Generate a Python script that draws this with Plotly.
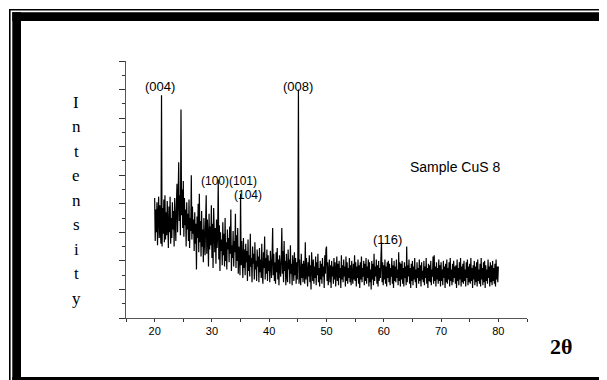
import plotly.graph_objects as go

# ---- data (intensity in arbitrary units, 2-theta step 0.1 deg) ----
two_theta_start = 20.0
two_theta_step = 0.1
intensity = [
    8.4, 5.4, 7.6, 6.0, 8.1, 5.1, 7.2, 8.5, 5.6, 7.9,   # 20
    6.1, 5.2, 15.6, 5.0, 7.7, 5.9, 8.3, 5.3, 8.6, 5.5,  # 21
    7.4, 5.8, 8.2, 6.4, 4.9, 7.8, 6.0, 8.5, 5.2, 7.0,   # 22
    5.6, 8.1, 6.2, 7.5, 5.0, 8.4, 6.6, 5.4, 7.9, 9.4,   # 23
    6.0, 8.0, 10.9, 6.8, 8.6, 5.8, 14.6, 7.2, 9.0, 6.3, # 24
    9.6, 5.7, 8.4, 6.5, 7.6, 5.0, 8.1, 6.2, 7.3, 5.4,   # 25
    8.3, 4.9, 7.0, 6.1, 10.0, 5.5, 7.8, 5.9, 6.9, 4.7,  # 26
    7.4, 5.2, 6.6, 3.4, 7.1, 5.6, 8.0, 4.6, 8.7, 5.3,   # 27
    6.8, 4.3, 7.5, 5.0, 6.2, 3.9, 7.0, 5.4, 4.4, 6.7,   # 28
    8.6, 4.5, 6.9, 5.7, 3.6, 7.3, 4.8, 6.4, 5.1, 7.9,   # 29
    4.2, 6.6, 3.5, 7.7, 5.2, 4.6, 6.3, 3.8, 6.9, 4.9,   # 30
    5.8, 9.7, 4.1, 6.5, 3.3, 6.0, 4.7, 5.5, 3.7, 6.7,   # 31
    4.4, 5.9, 3.6, 7.0, 4.0, 5.3, 3.4, 6.2, 4.8, 5.6,   # 32
    3.9, 6.4, 4.5, 7.6, 3.3, 5.1, 4.2, 6.1, 3.6, 5.4,   # 33
    4.6, 7.3, 3.5, 5.8, 4.0, 6.3, 3.1, 5.0, 4.3, 3.0,   # 34
    8.7, 3.7, 5.4, 4.1, 2.8, 5.6, 3.5, 4.8, 3.0, 5.2,   # 35
    3.9, 4.7, 2.6, 5.5, 3.3, 4.4, 2.9, 5.9, 3.6, 4.2,   # 36
    2.5, 5.0, 3.8, 4.5, 2.7, 5.3, 3.4, 4.0, 2.6, 4.8,   # 37
    3.6, 4.3, 2.5, 4.9, 3.2, 4.1, 2.8, 5.2, 3.0, 2.4,   # 38
    4.6, 3.5, 5.7, 2.7, 4.2, 3.1, 4.8, 2.6, 4.4, 3.3,   # 39
    4.0, 2.5, 4.7, 3.4, 2.8, 4.3, 6.3, 3.0, 4.5, 2.6,   # 40
    3.9, 2.4, 4.6, 3.2, 4.9, 2.7, 4.1, 2.3, 4.4, 3.5,   # 41
    2.9, 4.2, 6.3, 3.1, 4.7, 2.5, 5.4, 3.3, 4.0, 2.3,   # 42
    4.5, 3.0, 2.5, 4.8, 3.4, 4.1, 2.4, 5.1, 3.1, 3.8,   # 43
    2.3, 4.4, 3.2, 2.6, 4.6, 3.0, 4.2, 2.4, 3.9, 2.7,   # 44
    4.3, 16.0, 2.4, 4.1, 3.0, 2.3, 4.5, 2.8, 3.8, 2.5,  # 45
    4.0, 3.1, 2.4, 5.3, 2.7, 4.2, 3.3, 2.2, 3.9, 2.9,   # 46
    4.4, 2.5, 3.7, 2.0, 4.6, 3.2, 2.6, 4.1, 2.4, 3.6,   # 47
    2.8, 4.3, 2.3, 3.9, 3.0, 4.5, 2.5, 3.5, 2.2, 4.0,   # 48
    2.7, 3.8, 2.4, 4.2, 2.9, 3.6, 2.1, 4.4, 3.1, 4.8,   # 49
    5.0, 2.6, 3.9, 2.3, 3.5, 4.1, 2.5, 3.7, 2.1, 4.0,   # 50
    2.9, 3.6, 2.4, 4.2, 2.7, 3.9, 2.2, 3.4, 4.3, 2.6,   # 51
    3.8, 2.3, 4.0, 2.8, 3.5, 2.1, 4.4, 2.7, 3.7, 2.5,   # 52
    4.1, 2.9, 3.6, 2.2, 4.3, 2.6, 3.9, 2.4, 3.5, 2.8,   # 53
    4.2, 2.5, 3.7, 2.3, 4.0, 3.0, 2.4, 3.8, 2.7, 4.4,   # 54
    2.6, 3.9, 2.2, 3.6, 2.8, 4.1, 2.4, 3.7, 2.1, 3.9,   # 55
    2.7, 4.3, 2.5, 3.5, 2.9, 4.0, 2.3, 3.8, 2.6, 4.2,   # 56
    2.4, 3.6, 2.8, 4.1, 2.2, 3.9, 2.5, 3.4, 2.0, 4.0,   # 57
    2.7, 3.8, 2.3, 4.5, 2.6, 3.6, 2.9, 4.1, 2.4, 3.7,   # 58
    2.2, 4.0, 2.6, 3.5, 2.8, 4.2, 5.3, 2.5, 3.9, 2.3,   # 59
    3.7, 2.7, 4.1, 2.4, 3.6, 2.2, 3.9, 2.8, 4.0, 2.5,   # 60
    3.8, 2.3, 3.5, 2.9, 4.2, 2.4, 3.7, 2.1, 4.0, 2.6,   # 61
    3.6, 2.5, 4.1, 2.8, 3.4, 2.3, 4.6, 2.6, 3.9, 2.2,   # 62
    3.8, 2.7, 4.0, 2.4, 3.5, 2.2, 3.9, 2.8, 3.6, 2.3,   # 63
    5.0, 2.5, 3.7, 2.9, 4.1, 2.4, 3.5, 2.1, 3.8, 2.6,   # 64
    4.0, 2.3, 3.6, 2.7, 4.2, 2.5, 3.4, 2.1, 3.9, 2.8,   # 65
    3.5, 2.4, 4.1, 2.6, 3.7, 2.2, 3.9, 2.7, 3.3, 2.5,   # 66
    4.0, 2.3, 3.6, 2.8, 4.2, 2.4, 3.5, 2.1, 3.8, 2.6,   # 67
    3.7, 2.5, 4.0, 2.3, 3.4, 2.9, 4.3, 2.4, 4.4, 2.6,   # 68
    3.6, 2.2, 3.9, 2.7, 3.5, 2.4, 4.1, 2.6, 3.7, 2.2,   # 69
    3.9, 2.6, 3.4, 2.3, 4.0, 2.8, 3.6, 2.1, 3.8, 2.5,   # 70
    4.1, 2.4, 3.5, 2.7, 3.9, 2.2, 4.2, 2.6, 3.4, 2.3,   # 71
    3.8, 2.5, 4.0, 2.8, 3.6, 2.4, 3.7, 2.1, 4.1, 2.6,   # 72
    3.5, 2.3, 3.9, 2.7, 4.2, 2.2, 3.6, 2.5, 3.8, 2.4,   # 73
    4.0, 2.6, 3.4, 2.2, 3.9, 2.8, 4.1, 2.3, 3.6, 2.5,   # 74
    3.8, 2.4, 4.2, 2.6, 3.5, 2.1, 3.7, 2.7, 4.0, 2.3,   # 75
    3.6, 2.5, 3.9, 2.2, 4.1, 2.6, 3.4, 2.4, 3.8, 2.2,   # 76
    4.2, 2.7, 3.5, 2.3, 3.9, 2.5, 4.0, 2.1, 3.7, 2.6,   # 77
    3.4, 2.4, 4.1, 2.8, 3.6, 2.2, 3.9, 2.5, 3.7, 2.3,   # 78
    4.0, 2.6, 3.5, 2.4, 3.8, 2.2, 4.1, 2.7, 3.6, 2.5,   # 79
    3.6,                                                # 80
]
two_theta = [round(two_theta_start + two_theta_step * i, 1) for i in range(len(intensity))]

peak_labels = ["(004)", "(008)", "(100)(101)", "(104)", "(116)"]
peak_label_x = [21.0, 45.0, 32.9, 36.3, 60.6]
peak_label_y = [16.2, 16.2, 9.6, 8.6, 5.5]
peak_label_size = [13, 13, 12, 12, 13]

x_tick_vals = [20, 30, 40, 50, 60, 70, 80]
x_tick_text = ["20", "30", "40", "50", "60", "70", "80"]
y_title_letters = list("Intensity")

# ---- layout geometry (page pixels; the page body has an 8px margin) ----
OFF = 8
W, H = 607 - OFF, 380 - OFF
PL, PR, PT, PB = 126, 527, 61, 318          # plot area in page pixels
L, T = PL - OFF, PT - OFF
R, B = W - (PR - OFF), H - (PB - OFF)
PW, PH = PR - PL, PB - PT


def px(x):
    return (x - PL) / PW


def py(y):
    return (PB - y) / PH


fig = go.Figure()
fig.add_trace(go.Scatter(
    x=two_theta, y=intensity, mode="lines",
    line=dict(color="black", width=1.2), hoverinfo="skip", showlegend=False,
))

annotations = []
for t, xv, yv, fs in zip(peak_labels, peak_label_x, peak_label_y, peak_label_size):
    annotations.append(dict(x=xv, y=yv, xref="x", yref="y", text=t, showarrow=False,
                            font=dict(family="Liberation Sans, Arial", size=fs, color="black"),
                            xanchor="center", yanchor="middle", borderpad=0))
annotations.append(dict(x=72.4, y=10.6, xref="x", yref="y", text="Sample CuS 8", showarrow=False,
                        font=dict(family="Liberation Sans, Arial", size=14, color="black"),
                        xanchor="center", yanchor="middle"))
for i, ch in enumerate(y_title_letters):
    annotations.append(dict(x=px(76), y=py(102 + i * 24.5), xref="paper", yref="paper", text=ch,
                            showarrow=False,
                            font=dict(family="Liberation Serif, Times New Roman", size=17, color="black"),
                            xanchor="center", yanchor="middle"))
annotations.append(dict(x=px(560.5), y=py(346), xref="paper", yref="paper", text="<b>2θ</b>",
                        showarrow=False,
                        font=dict(family="Liberation Serif, Times New Roman", size=22, color="black"),
                        xanchor="center", yanchor="middle"))

# frame (double border), page pixel coordinates
shapes = []
def rect(x0, y0, x1, y1):
    shapes.append(dict(type="rect", xref="paper", yref="paper",
                       x0=px(x0), x1=px(x1), y0=py(y0), y1=py(y1),
                       fillcolor="black", line=dict(width=0), layer="above"))

rect(9, 9, 10.6, 400)       # thin left
rect(9, 9, 700, 10.6)       # thin top
rect(12.3, 12.3, 21, 400)   # thick left
rect(12.3, 12.3, 700, 21)   # thick top
rect(12.3, 377, 700, 400)   # thick bottom

fig.update_layout(
    width=W, height=H,
    margin=dict(l=L, r=R, t=T, b=B),
    paper_bgcolor="white", plot_bgcolor="white",
    annotations=annotations, shapes=shapes,
    xaxis=dict(range=[15, 85], showgrid=False, zeroline=False,
               showline=True, linecolor="#555", linewidth=1,
               tickmode="array", tickvals=x_tick_vals, ticktext=x_tick_text,
               ticks="outside", ticklen=3, tickcolor="#333",
               tickfont=dict(family="Liberation Sans, Arial", size=11, color="black"),
               minor=dict(ticks="outside", tick0=15, dtick=5, ticklen=3, tickcolor="#333")),
    yaxis=dict(range=[0, 18], showgrid=False, zeroline=False,
               showline=True, linecolor="#555", linewidth=1,
               tickmode="linear", tick0=0, dtick=2, showticklabels=False,
               ticks="outside", ticklen=6, tickcolor="#333",
               minor=dict(ticks="outside", tick0=0, dtick=1, ticklen=3, tickcolor="#333")),
)

fig.write_html("out.html")
